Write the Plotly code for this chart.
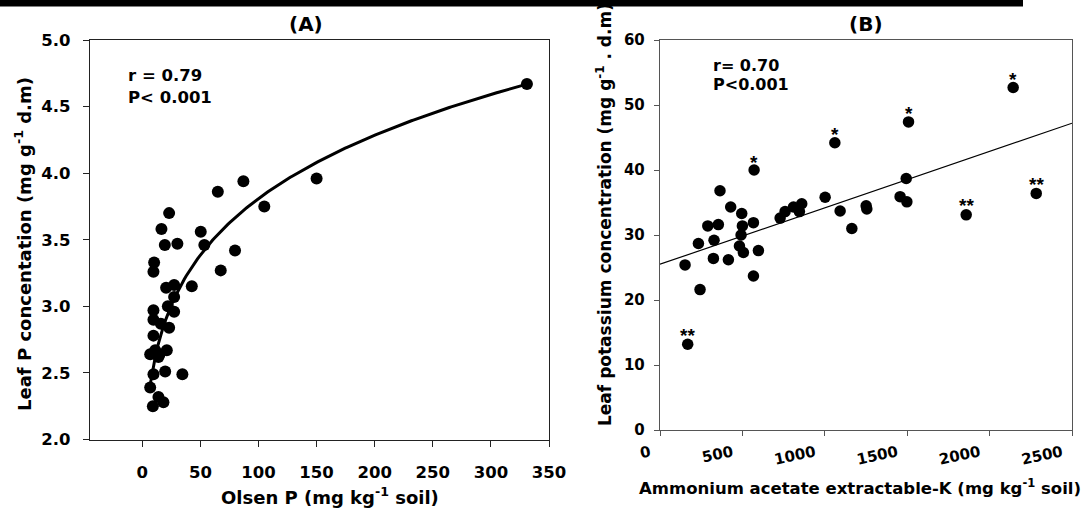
import numpy as np
import plotly.graph_objects as go

# ---------------- data: panel A ----------------
olsen_p = [23.1, 16.5, 50.3, 19.4, 30.2, 53.4, 79.8, 10.2, 9.6, 67.5,
           20.5, 27.4, 42.6, 27.4, 9.6, 22.0, 27.4, 9.6, 16.0, 23.1,
           9.6, 6.8, 11.1, 14.8, 21.1, 13.9, 9.6, 19.7, 34.5, 6.8,
           13.9, 18.2, 9.1, 105, 150, 87, 65, 331]
leaf_p = [3.70, 3.58, 3.56, 3.46, 3.47, 3.46, 3.42, 3.33, 3.26, 3.27,
          3.14, 3.16, 3.15, 3.07, 2.97, 3.00, 2.96, 2.90, 2.87, 2.84,
          2.78, 2.64, 2.67, 2.64, 2.67, 2.62, 2.49, 2.51, 2.49, 2.39,
          2.32, 2.28, 2.25, 3.75, 3.96, 3.94, 3.86, 4.67]
fit_a_coef = 1.741      # power fit y = a * x^b
fit_a_exp = 0.170
stats_a = ["r = 0.79", "P< 0.001"]

# ---------------- data: panel B ----------------
k_soil = [152, 243, 233, 290, 354, 328, 324, 415, 429, 496,
          500, 492, 482, 506, 567, 597, 567, 168, 729, 759,
          810, 846, 860, 1002, 1093, 1164, 1251, 1255, 1457, 1494,
          1498, 1061, 1508, 2143, 1858, 2283, 571, 364]
leaf_k = [25.4, 21.6, 28.7, 31.4, 31.6, 29.2, 26.4, 26.2, 34.3, 33.3,
          31.4, 30.0, 28.3, 27.3, 31.9, 27.6, 23.7, 13.2, 32.6, 33.6,
          34.3, 33.6, 34.8, 35.8, 33.7, 31.0, 34.5, 34.0, 35.9, 38.7,
          35.1, 44.2, 47.4, 52.7, 33.1, 36.4, 40.0, 36.8]
fit_b_intercept = 25.5
fit_b_slope = 0.00868
stats_b = ["r= 0.70", "P<0.001"]
star_x = [571, 1061, 1508, 2143, 168, 1858, 2283]
star_y = [40.0, 44.2, 47.4, 52.7, 13.2, 33.1, 36.4]
star_lab = ["*", "*", "*", "*", "**", "**", "**"]

a_xticks = [0, 50, 100, 150, 200, 250, 300, 350]
a_yticks = [2.0, 2.5, 3.0, 3.5, 4.0, 4.5, 5.0]
b_xticks = [0, 500, 1000, 1500, 2000, 2500]
b_yticks = [0, 10, 20, 30, 40, 50, 60]

# ---------------- layout helpers ----------------
W, H = 1081, 508
FONT = "DejaVu Sans"
STAR_FONT = "Liberation Sans"


def X(px):
    return px / W


def Y(py):
    return 1 - py / H


fig = go.Figure()

fig.add_trace(go.Scatter(x=olsen_p, y=leaf_p, mode="markers",
                         marker=dict(color="black", size=12),
                         xaxis="x", yaxis="y", showlegend=False))
xa = np.linspace(min(olsen_p), max(olsen_p), 200)
fig.add_trace(go.Scatter(x=xa, y=fit_a_coef * xa ** fit_a_exp, mode="lines",
                         line=dict(color="black", width=3),
                         xaxis="x", yaxis="y", showlegend=False))

xb = np.array([b_xticks[0], b_xticks[-1]], dtype=float)
fig.add_trace(go.Scatter(x=xb, y=fit_b_intercept + fit_b_slope * xb, mode="lines",
                         line=dict(color="black", width=1.2),
                         xaxis="x2", yaxis="y2", showlegend=False))
fig.add_trace(go.Scatter(x=k_soil, y=leaf_k, mode="markers",
                         marker=dict(color="black", size=11.5),
                         xaxis="x2", yaxis="y2", showlegend=False))

tickfont_a = dict(family=FONT, size=16.5, color="black", weight="bold")
tickfont_b = dict(family=FONT, size=15, color="black", weight="bold")

common = dict(showgrid=False, zeroline=False, showline=True, mirror=True,
              ticks="outside", automargin=False)

fig.update_layout(
    width=W, height=H,
    margin=dict(l=0, r=0, t=0, b=0),
    paper_bgcolor="white", plot_bgcolor="white",
    xaxis=dict(domain=[X(90), X(549)], range=[-45, 350], tickvals=a_xticks,
               linecolor="#222", linewidth=1.4, tickcolor="#222", ticklen=6,
               tickfont=tickfont_a, ticklabelstandoff=11, anchor="y", **common),
    yaxis=dict(domain=[Y(439.5), Y(40)], range=[2, 5], tickvals=a_yticks,
               tickformat=".1f", linecolor="#222", linewidth=1.4, tickcolor="#222",
               ticklen=6, tickfont=tickfont_a, ticklabelstandoff=9, anchor="x", **common),
    xaxis2=dict(domain=[X(660), X(1072)], range=[0, 2500], tickvals=b_xticks,
                linecolor="#555", linewidth=1.4, tickcolor="#555", ticklen=5,
                tickangle=-12, tickfont=tickfont_b, ticklabelstandoff=2,
                ticklabelshift=-10, anchor="y2", **common),
    yaxis2=dict(domain=[Y(430), Y(40)], range=[0, 60], tickvals=b_yticks,
                linecolor="#555", linewidth=1.4, tickcolor="#555", ticklen=5,
                tickfont=tickfont_b, ticklabelstandoff=6, anchor="x2", **common),
    shapes=[dict(type="rect", xref="paper", yref="paper", x0=0, x1=X(1023),
                 y0=Y(6.5), y1=1, fillcolor="black", line=dict(width=0))],
)

ann = []


def txt(text, px, py, size, angle=0, xanchor="center"):
    ann.append(dict(text=text, x=X(px), y=Y(py), xref="paper", yref="paper",
                    showarrow=False, textangle=angle, xanchor=xanchor, yanchor="middle",
                    font=dict(family=FONT, size=size, color="black", weight="bold")))


txt("(A)", 306, 24, 20)
txt("(B)", 866, 24, 20)
txt(stats_a[0], 126, 76, 16.5, xanchor="left")
txt(stats_a[1], 126, 97, 16.5, xanchor="left")
txt(stats_b[0], 711, 65, 16, xanchor="left")
txt(stats_b[1], 711, 84, 16, xanchor="left")
txt("Olsen P (mg kg<sup>-1</sup> soil)", 330, 496, 18)
txt("Ammonium acetate extractable-K (mg kg<sup>-1</sup> soil)", 860, 487, 16.5)
txt("Leaf P concentation (mg g<sup>-1</sup> d.m)", 23, 244, 18, angle=-90)
txt("Leaf potassium concentration (mg g<sup>-1</sup> . d.m)", 604, 215, 17, angle=-90)

for sx, sy, sl in zip(star_x, star_y, star_lab):
    ann.append(dict(text=sl, x=sx, y=sy, xref="x2", yref="y2", showarrow=False,
                    yshift=8 if sl == "*" else 9,
                    font=dict(family=STAR_FONT, size=19, color="#000000", weight="bold")))

fig.update_layout(annotations=ann)

fig.write_html("out.html", config={"displayModeBar": False},
               post_script="document.body.style.margin='0';document.body.style.overflow='hidden';")
